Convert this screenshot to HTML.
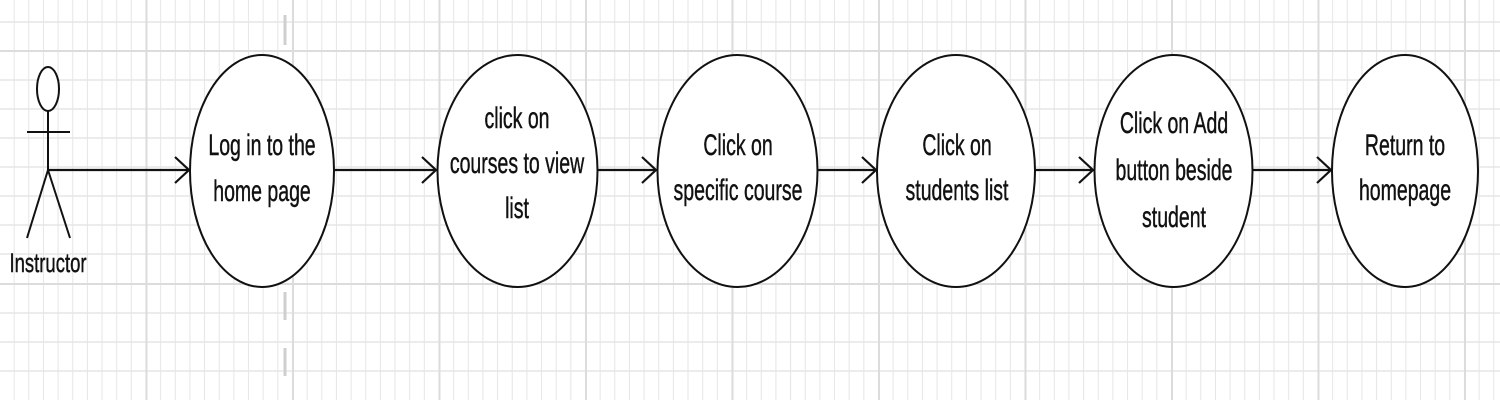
<!DOCTYPE html>
<html><head><meta charset="utf-8"><style>html,body{margin:0;padding:0;background:#fff}svg{display:block}</style></head>
<body>
<svg width="1500" height="400" viewBox="0 0 1500 400" xmlns="http://www.w3.org/2000/svg">
<defs>
<pattern id="gv" width="14.65" height="400" patternUnits="userSpaceOnUse"><line x1="14.2" y1="0" x2="14.2" y2="400" stroke="#e6e6e6" stroke-width="1.2"/></pattern>
</defs>
<rect width="1500" height="400" fill="#fff"/>
<rect width="1500" height="400" fill="url(#gv)"/>
<g stroke="#e6e6e6" stroke-width="1.5">
<line x1="0" y1="22" x2="1500" y2="22"/><line x1="0" y1="80" x2="1500" y2="80"/><line x1="0" y1="109" x2="1500" y2="109"/><line x1="0" y1="138" x2="1500" y2="138"/><line x1="0" y1="167" x2="1500" y2="167"/><line x1="0" y1="196" x2="1500" y2="196"/><line x1="0" y1="225" x2="1500" y2="225"/><line x1="0" y1="254" x2="1500" y2="254"/><line x1="0" y1="313" x2="1500" y2="313"/><line x1="0" y1="342" x2="1500" y2="342"/><line x1="0" y1="371" x2="1500" y2="371"/>
</g>
<g stroke="#dcdcdc" stroke-width="2">
<line x1="0" y1="51" x2="1500" y2="51"/><line x1="0" y1="284" x2="1500" y2="284"/>
<line x1="146.5" y1="0" x2="146.5" y2="400"/><line x1="293" y1="0" x2="293" y2="400"/><line x1="439.5" y1="0" x2="439.5" y2="400"/><line x1="586" y1="0" x2="586" y2="400"/><line x1="732.5" y1="0" x2="732.5" y2="400"/><line x1="879" y1="0" x2="879" y2="400"/><line x1="1025.5" y1="0" x2="1025.5" y2="400"/><line x1="1172" y1="0" x2="1172" y2="400"/><line x1="1318.5" y1="0" x2="1318.5" y2="400"/><line x1="1465" y1="0" x2="1465" y2="400"/>
</g>
<g stroke="#cfcfcf" stroke-width="3">
<line x1="285" y1="15" x2="285" y2="45"/><line x1="285" y1="292" x2="285" y2="320"/><line x1="285" y1="348" x2="285" y2="376"/>
</g>
<g stroke="#111" stroke-width="2" fill="none">
<ellipse cx="48" cy="89" rx="11" ry="22" fill="#fff"/>
<line x1="48" y1="111" x2="48" y2="170"/>
<line x1="27" y1="132" x2="70" y2="132"/>
<line x1="48" y1="170" x2="27" y2="238"/>
<line x1="48" y1="170" x2="70" y2="238"/>
</g>
<g stroke="#111" stroke-width="2.2" fill="none">
<line x1="48" y1="170" x2="189" y2="170"/><polyline points="175,157 189,170 175,183"/>
<line x1="335" y1="170" x2="436" y2="170"/><polyline points="422,157 436,170 422,183"/>
<line x1="598" y1="170" x2="656" y2="170"/><polyline points="642,157 656,170 642,183"/>
<line x1="818" y1="170" x2="876" y2="170"/><polyline points="862,157 876,170 862,183"/>
<line x1="1035" y1="170" x2="1093" y2="170"/><polyline points="1079,157 1093,170 1079,183"/>
<line x1="1253" y1="170" x2="1331" y2="170"/><polyline points="1317,157 1331,170 1317,183"/>
</g>
<g stroke="#111" stroke-width="2" fill="#fff">
<ellipse cx="262" cy="171" rx="72" ry="116"/>
<ellipse cx="517.5" cy="171" rx="80" ry="116"/>
<ellipse cx="737.5" cy="171" rx="80" ry="116"/>
<ellipse cx="956" cy="171" rx="79" ry="116"/>
<ellipse cx="1173.5" cy="171" rx="79" ry="116"/>
<ellipse cx="1405" cy="171" rx="73" ry="116"/>
</g>
<g font-family="Liberation Sans, sans-serif" font-size="19.5" fill="#111" stroke="#111" stroke-width="0.3" text-anchor="middle">
<text transform="translate(48,272) scale(1,1.45)" font-size="18.5">Instructor</text>
<text transform="translate(262,155) scale(1,1.5)">Log in to the</text>
<text transform="translate(262,201) scale(1,1.5)">home page</text>
<text transform="translate(517,128) scale(1,1.5)">click on</text>
<text transform="translate(517,173) scale(1,1.5)">courses to view</text>
<text transform="translate(517,218) scale(1,1.5)">list</text>
<text transform="translate(738,155) scale(1,1.5)">Click on</text>
<text transform="translate(738,200) scale(1,1.5)">specific course</text>
<text transform="translate(957,155) scale(1,1.5)">Click on</text>
<text transform="translate(957,200) scale(1,1.5)">students list</text>
<text transform="translate(1174,133) scale(1,1.5)">Click on Add</text>
<text transform="translate(1174,180) scale(1,1.5)">button beside</text>
<text transform="translate(1174,227) scale(1,1.5)">student</text>
<text transform="translate(1405,155) scale(1,1.5)">Return to</text>
<text transform="translate(1405,200) scale(1,1.5)">homepage</text>
</g>
</svg>
</body></html>
